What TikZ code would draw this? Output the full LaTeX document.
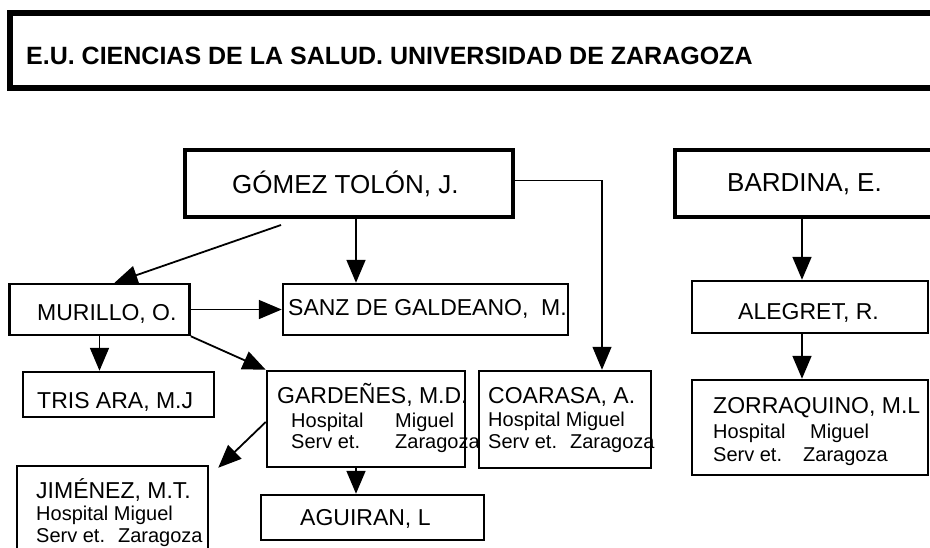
\documentclass[tikz,border=0pt]{standalone}
\usepackage{fontspec}
\setmainfont{Liberation Sans}
\usetikzlibrary{arrows.meta}

\tikzset{
  box/.style={draw, rectangle, line width=2.5pt, inner sep=0pt},
  headbox/.style={box, line width=4pt},
  arr/.style={line width=1.8pt, -{Triangle[length=23pt,width=19pt]}},
  thinarr/.style={arr, line width=1.3pt},
  big/.style={anchor=base west, inner sep=0pt, font=\fontsize{26}{26}\selectfont},
  nm/.style={anchor=base west, inner sep=0pt, font=\fontsize{23}{23}\selectfont},
  sm/.style={anchor=base west, inner sep=0pt, font=\fontsize{20}{20}\selectfont}
}

\begin{document}
\begin{tikzpicture}[x=1pt,y=-1pt]
\useasboundingbox (0,0) rectangle (930,547);

% title
\node[box, line width=6pt, minimum width=936pt, minimum height=75pt] (title) at (477.5,50.5) {};
\node[anchor=base west, inner sep=0pt, font=\bfseries\fontsize{25}{25}\selectfont] (titletext) at (26,64) {E.U. CIENCIAS DE LA SALUD. UNIVERSIDAD DE ZARAGOZA};

% boxes
\node[headbox, minimum width=328pt, minimum height=67pt] (gomez) at (349,183.5) {};
\node[headbox, minimum width=271pt, minimum height=67.5pt] (bardina) at (810,183.25) {};
\node[box, minimum width=180pt, minimum height=51pt] (murillo) at (99.5,309.5) {};
\node[box, minimum width=285pt, minimum height=51pt] (sanz) at (425.5,309.5) {};
\node[box, minimum width=191pt, minimum height=45pt] (tris) at (118.5,394.5) {};
\node[box, minimum width=198pt, minimum height=96pt] (gardenes) at (366,419) {};
\node[box, minimum width=172pt, minimum height=97pt] (coarasa) at (565,419.5) {};
\node[box, minimum width=191pt, minimum height=104pt] (jimenez) at (112.5,518) {};
\node[box, minimum width=223pt, minimum height=45pt] (aguiran) at (372.5,517.5) {};
\node[box, minimum width=236pt, minimum height=52pt] (alegret) at (810,307) {};
\node[box, minimum width=236pt, minimum height=95pt] (zorraquino) at (810,427.5) {};

% texts
\node[big] (gomez-t) at (232,193) {GÓMEZ TOLÓN, J.};
\node[big] (bardina-t) at (727,191) {BARDINA, E.};
\node[nm] (murillo-t) at (37,320) {MURILLO, O.};
\node[nm] (sanz-t) at (288,315) {SANZ DE GALDEANO, \ M.};
\node[nm] (tris-t) at (37,408) {TRIS ARA, M.J};
\node[nm] (gardenes-t) at (277,403) {GARDEÑES, M.D.};
\node[sm] (gardenes-l1) at (291,427) {\makebox[104pt][l]{Hospital}Miguel};
\node[sm] (gardenes-l2) at (291,448) {\makebox[104pt][l]{Serv et.}Zaragoza};
\node[nm] (coarasa-t) at (488,403) {COARASA, A.};
\node[sm] (coarasa-l1) at (488,426) {Hospital Miguel};
\node[sm] (coarasa-l2) at (488,448) {Serv et. \ Zaragoza};
\node[nm] (jimenez-t) at (36,498) {JIMÉNEZ, M.T.};
\node[sm] (jimenez-l1) at (36,520) {Hospital Miguel};
\node[sm] (jimenez-l2) at (36,542) {Serv et. \ Zaragoza};
\node[nm] (aguiran-t) at (300,525) {AGUIRAN, L};
\node[nm] (alegret-t) at (738,319) {ALEGRET, R.};
\node[nm] (zorraquino-t) at (713,413) {ZORRAQUINO, M.L};
\node[sm] (zorraquino-l1) at (713,438) {\makebox[97pt][l]{Hospital}Miguel};
\node[sm] (zorraquino-l2) at (713,461) {\makebox[90pt][l]{Serv et.}Zaragoza};

% connectors
\draw[arr] ([xshift=-68pt,yshift=-6pt]gomez.south) -- ([xshift=15pt]murillo.north);
\draw[arr] ([xshift=7pt]gomez.south) -- ([xshift=7pt]gomez.south |- sanz.north);
\draw[thinarr] ([yshift=3pt]gomez.east) -| ([xshift=37pt]coarasa.north);
\draw[arr] (murillo) -- (sanz);
\draw[arr] (murillo.south) -- (murillo.south |- tris.north);
\draw[arr] (murillo.south east) -- (gardenes.north west);
\draw[arr] ([yshift=-3pt]gardenes.west) -- ([xshift=9pt,yshift=-3pt]jimenez.north east);
\draw[arr] ([xshift=-10pt]gardenes.south) -- ([xshift=-10pt]gardenes.south |- aguiran.north);
\draw[arr] ([xshift=-8pt]bardina.south) -- ([xshift=-8pt]alegret.north);
\draw[arr] ([xshift=-8pt]alegret.south) -- ([xshift=-8pt]zorraquino.north);
\end{tikzpicture}
\end{document}
